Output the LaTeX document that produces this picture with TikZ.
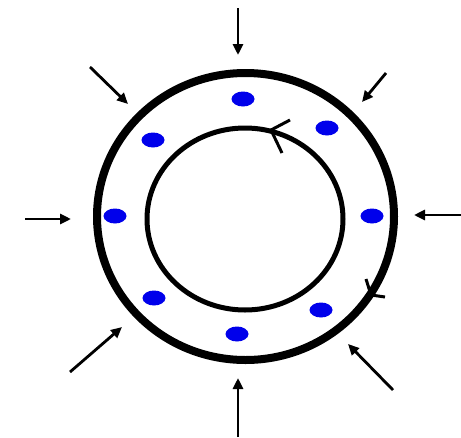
\documentclass[tikz,border=0pt]{standalone}
\usetikzlibrary{arrows.meta,shapes.geometric}
\definecolor{dotblue}{RGB}{0,0,235}
\begin{document}
\begin{tikzpicture}[x=1pt,y=-1pt,
  dot/.style={ellipse, fill=dotblue, minimum width=23pt, minimum height=15pt, inner sep=0pt},
  push/.style={line width=2.8pt, -{Triangle[length=11pt,width=10pt]}},
  outerring/.style={line width=8pt},
  innerring/.style={line width=5pt},
  chev/.style={line width=3pt}]
\useasboundingbox (0,0) rectangle (461,437);
% rings
\draw[outerring] (245.5,216.5) ellipse [x radius=148.5pt, y radius=143.5pt];
\draw[innerring] (245,219) ellipse [x radius=98pt, y radius=91pt];
% dots
\node[dot] (d1) at (243,99) {};
\node[dot] (d2) at (153,140) {};
\node[dot] (d3) at (327,128) {};
\node[dot] (d4) at (115,216) {};
\node[dot] (d5) at (372,216) {};
\node[dot] (d6) at (154,298) {};
\node[dot] (d7) at (321,310) {};
\node[dot] (d8) at (237,334) {};
% arrow ends
\coordinate (tT) at (238,8);   \coordinate (hT) at (238,55);
\coordinate (tB) at (238,437); \coordinate (hB) at (238,378);
\coordinate (tL) at (25,219);  \coordinate (hL) at (71,219);
\coordinate (tR) at (461,215); \coordinate (hR) at (414,215);
\coordinate (tTL) at (90,67);  \coordinate (hTL) at (128,104);
\coordinate (tTR) at (386,73); \coordinate (hTR) at (362,102);
\coordinate (tBL) at (70,372); \coordinate (hBL) at (122,327);
\coordinate (tBR) at (393,390);\coordinate (hBR) at (348,344);
\draw[push] (tT) -- (hT);
\draw[push] (tB) -- (hB);
\draw[push] (tL) -- (hL);
\draw[push] (tR) -- (hR);
\draw[push] (tTL) -- (hTL);
\draw[push] (tTR) -- (hTR);
\draw[push] (tBL) -- (hBL);
\draw[push] (tBR) -- (hBR);
% rotation chevrons
\coordinate (c1a) at (290,120); \coordinate (c1t) at (271,130); \coordinate (c1b) at (282,153);
\coordinate (c2a) at (366,279); \coordinate (c2t) at (371,295); \coordinate (c2b) at (385,297);
\draw[chev] (c1a) -- (c1t) -- (c1b);
\draw[chev] (c2a) -- (c2t) -- (c2b);
\end{tikzpicture}
\end{document}
